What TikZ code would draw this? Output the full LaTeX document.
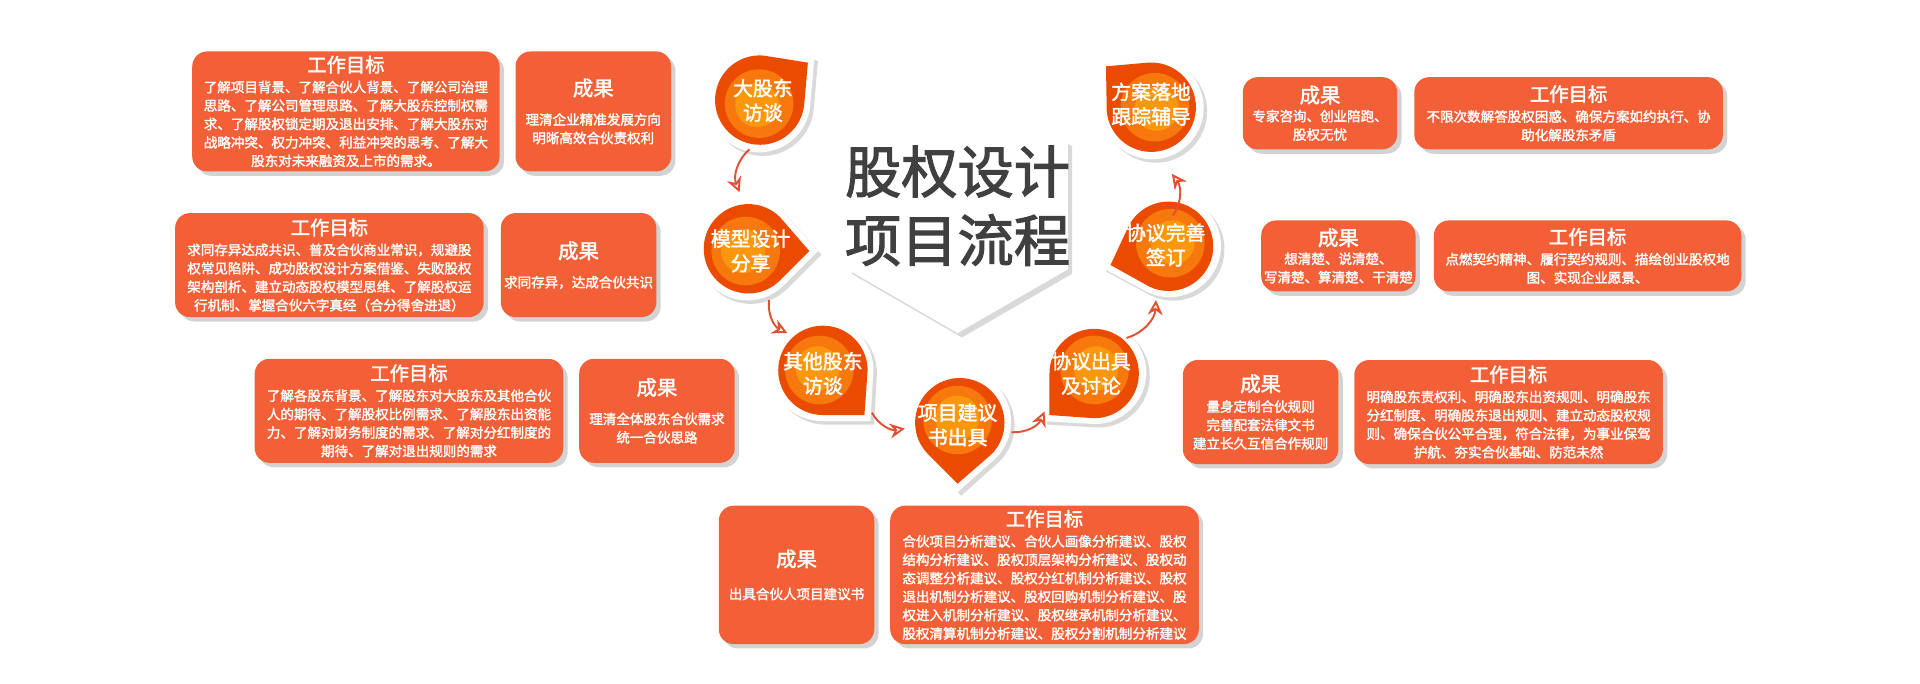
\documentclass[tikz,border=0pt]{standalone}
\usepackage{fontspec}
\setmainfont{Noto Sans CJK SC}[AutoFakeBold=2]
\usetikzlibrary{shadows,arrows.meta,calc}
\definecolor{cardor}{RGB}{243,95,54}
\definecolor{arrowred}{RGB}{225,80,50}
\definecolor{hexgray}{RGB}{64,64,64}
\definecolor{dropout}{RGB}{235,75,0}
\definecolor{dropin}{RGB}{255,150,20}
\tikzset{
 card/.style={fill=cardor,rounded corners=8.5pt,drop shadow={opacity=0.35,shadow xshift=2.5pt,shadow yshift=-2.5pt}},
 cardtext/.style={text=white,align=center,font=\bfseries\fontsize{7.7}{10.5}\selectfont,inner sep=0pt},
 droptext/.style={text=white,align=center,font=\bfseries\fontsize{11.3}{14}\selectfont,inner sep=0pt},
 flowarrow/.style={draw=arrowred,line width=1.1pt,-{Stealth[length=8.5pt,width=8.5pt,open]}},
}
\newcommand{\goaltitle}{{\fontsize{11}{13.5}\selectfont 工作目标}}
\newcommand{\restitle}{{\fontsize{11.6}{14.7}\selectfont 成果}}
\newcommand{\mycard}[6]{%
 \path[card] (#2,#3) rectangle (#4,#5);
 \node[cardtext] (#1) at ($(#2,#3)!0.5!(#4,#5)$) {#6};}
\newcommand{\mydrop}[5]{%
 \path[fill=white,drop shadow={opacity=0.3,shadow xshift=2pt,shadow yshift=-2pt}] (#2,#3) ++(#4:55) -- ++(#4+135:39.6) arc[start angle=#4+45,end angle=#4+315,radius=42] -- cycle;
 \path[fill=dropout] (#2,#3) ++(#4:48) -- ++(#4+135:33.9) arc[start angle=#4+45,end angle=#4+315,radius=36.5] -- cycle;
 \fill[dropin,opacity=0.6] (#2,#3) ++(#4+180:4) circle[radius=28];
 \fill[dropin!70!yellow,opacity=0.5] (#2,#3) ++(#4+180:6) circle[radius=18];
 \node[droptext] (#1) at (#2,#3) {#5};}
\begin{document}
\begin{tikzpicture}[x=0.024490cm,y=-0.024490cm]
\useasboundingbox (0,0) rectangle (1568,557.8);
\path[fill=white,drop shadow={opacity=0.3,shadow xshift=2.5pt,shadow yshift=-2.5pt}] (782,64) -- (872,116) -- (872,220) -- (782,272) -- (692,220) -- (692,116) -- cycle;
\node[text=hexgray,font=\bfseries\fontsize{32}{39}\selectfont,align=center] (hex) at (782,168) {股权设计\\项目流程};
\mycard{g1}{157}{42}{408}{140}{\goaltitle\\[1pt]了解项目背景、了解合伙人背景、了解公司治理\\思路、了解公司管理思路、了解大股东控制权需\\求、了解股权锁定期及退出安排、了解大股东对\\战略冲突、权力冲突、利益冲突的思考、了解大\\股东对未来融资及上市的需求。}
\mycard{r1}{421}{42}{548}{140}{\restitle\\[6pt]理清企业精准发展方向\\明晰高效合伙责权利}
\mycard{g2}{143}{174}{395}{259}{\goaltitle\\[1pt]求同存异达成共识、普及合伙商业常识，规避股\\权常见陷阱、成功股权设计方案借鉴、失败股权\\架构剖析、建立动态股权模型思维、了解股权运\\行机制、掌握合伙六字真经（合分得舍进退）}
\mycard{r2}{409}{174}{536}{259}{\restitle\\[6pt]求同存异，达成合伙共识}
\mycard{g3}{208}{293}{460}{378}{\goaltitle\\[1pt]了解各股东背景、了解股东对大股东及其他合伙\\人的期待、了解股权比例需求、了解股东出资能\\力、了解对财务制度的需求、了解对分红制度的\\期待、了解对退出规则的需求}
\mycard{r3}{473}{293}{600}{378}{\restitle\\[6pt]理清全体股东合伙需求\\统一合伙思路}
\mycard{r4}{587}{413}{714}{526}{\restitle\\[8pt]出具合伙人项目建议书}
\mycard{g4}{727}{413}{979}{526}{\goaltitle\\[1pt]合伙项目分析建议、合伙人画像分析建议、股权\\结构分析建议、股权顶层架构分析建议、股权动\\态调整分析建议、股权分红机制分析建议、股权\\退出机制分析建议、股权回购机制分析建议、股\\权进入机制分析建议、股权继承机制分析建议、\\股权清算机制分析建议、股权分割机制分析建议}
\mycard{r5}{1015}{63}{1141}{122}{\restitle\\专家咨询、创业陪跑、\\股权无忧}
\mycard{g5}{1155}{63}{1407}{122}{\goaltitle\\[1pt]不限次数解答股权困惑、确保方案如约执行、协\\助化解股东矛盾}
\mycard{r6}{1030}{180}{1156}{238}{\restitle\\想清楚、说清楚、\\写清楚、算清楚、干清楚}
\mycard{g6}{1171}{180}{1422}{238}{\goaltitle\\[1pt]点燃契约精神、履行契约规则、描绘创业股权地\\图、实现企业愿景、}
\mycard{r7}{966}{294}{1093}{379}{\restitle\\[1pt]量身定制合伙规则\\完善配套法律文书\\建立长久互信合作规则}
\mycard{g7}{1106}{294}{1358}{379}{\goaltitle\\[1pt]明确股东责权利、明确股东出资规则、明确股东\\分红制度、明确股东退出规则、建立动态股权规\\则、确保合伙公平合理，符合法律，为事业保驾\\护航、夯实合伙基础、防范未然}
\mydrop{d1}{623}{82}{-40}{大股东\\访谈}
\mydrop{d2}{613}{205}{0}{模型设计\\分享}
\mydrop{d3}{672}{305}{45}{其他股东\\访谈}
\mydrop{d4}{782}{347}{90}{项目建议\\书出具}
\mydrop{d5}{891}{305}{135}{协议出具\\及讨论}
\mydrop{d6}{952}{200}{160}{协议完善\\签订}
\mydrop{d7}{940}{85}{-140}{方案落地\\跟踪辅导}
\coordinate (a1s) at (612,122); \coordinate (a1e) at (604,157);
\coordinate (a2s) at (628,245); \coordinate (a2e) at (643,272);
\coordinate (a3s) at (712,337); \coordinate (a3e) at (739,350);
\coordinate (a4s) at (826,353); \coordinate (a4e) at (853,336);
\coordinate (a5s) at (920,276); \coordinate (a5e) at (944,245);
\coordinate (a6s) at (958,176); \coordinate (a6e) at (957,142);
\draw[flowarrow] (a1s) to[bend right=35] (a1e);
\draw[flowarrow] (a2s) to[bend right=35] (a2e);
\draw[flowarrow] (a3s) to[bend right=35] (a3e);
\draw[flowarrow] (a4s) to[bend right=35] (a4e);
\draw[flowarrow] (a5s) to[bend right=35] (a5e);
\draw[flowarrow] (a6s) to[bend right=35] (a6e);
\end{tikzpicture}
\end{document}
